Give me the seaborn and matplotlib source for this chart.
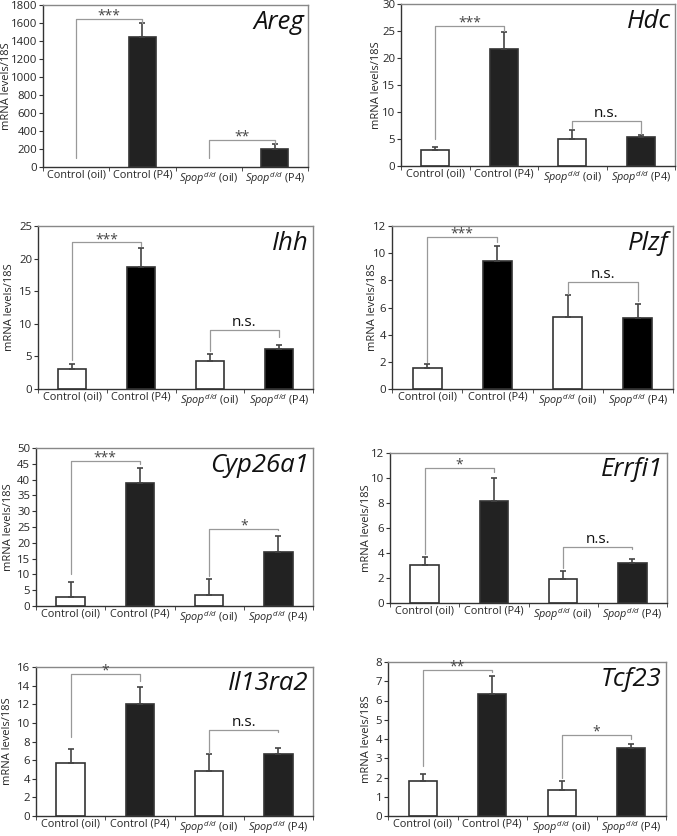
import pandas as pd
import numpy as np
import matplotlib
matplotlib.use('Agg')
import matplotlib.pyplot as plt
import seaborn as sns

# grupos (eixo x)
groups = ['Control (oil)', 'Control (P4)', r'$Spop^{d/d}$ (oil)', r'$Spop^{d/d}$ (P4)']

genes = ['Areg', 'Hdc', 'Ihh', 'Plzf', 'Cyp26a1', 'Errfi1', 'Il13ra2', 'Tcf23']

# medias e erros
mean_areg = [0, 1450, 0, 205]
err_areg = [0, 150, 0, 55]
mean_hdc = [2.9, 21.6, 5.0, 5.4]
err_hdc = [0.7, 3.3, 1.6, 0.4]
mean_ihh = [3.0, 18.7, 4.3, 6.1]
err_ihh = [0.8, 2.9, 1.0, 0.6]
mean_plzf = [1.55, 9.4, 5.3, 5.2]
err_plzf = [0.3, 1.1, 1.65, 1.05]
mean_cyp = [2.8, 39.0, 3.6, 17.1]
err_cyp = [4.9, 4.8, 5.0, 5.0]
mean_errfi = [3.05, 8.15, 1.95, 3.2]
err_errfi = [0.65, 1.85, 0.65, 0.35]
mean_il13 = [5.7, 12.0, 4.85, 6.65]
err_il13 = [1.45, 1.85, 1.8, 0.7]
mean_tcf = [1.83, 6.35, 1.35, 3.55]
err_tcf = [0.37, 0.9, 0.45, 0.18]

# colchetes de significancia: (inicio, topo, fim, rotulo)
sig1 = [(100, 1650, 1600, '***'), (5, 26, 25, '***'), (4.5, 22.5, 22, '***'),
        (2, 11.2, 10.8, '***'), (10, 46, 45, '***'), (3.9, 10.8, 10.5, '*'),
        (8.5, 15.2, 14.5, '*'), (2.6, 7.6, 7.5, '**')]
sig2 = [(100, 300, 260, '**'), (7, 8.3, 6, 'n.s.'), (5.8, 9, 8, 'n.s.'),
        (7, 7.85, 6.5, 'n.s.'), (9.5, 24.5, 24, '*'), (2.8, 4.5, 4.3, 'n.s.'),
        (6.8, 9.2, 9, 'n.s.'), (2, 4.2, 4, '*')]

ymax = [1800, 30, 25, 12, 50, 12, 16, 8]
ystep = [200, 5, 5, 2, 5, 2, 2, 1]

means = [mean_areg, mean_hdc, mean_ihh, mean_plzf, mean_cyp, mean_errfi, mean_il13, mean_tcf]
errs = [err_areg, err_hdc, err_ihh, err_plzf, err_cyp, err_errfi, err_il13, err_tcf]

dark = ['#222222', '#222222', '#000000', '#000000', '#222222', '#222222', '#222222', '#222222']

# caixas dos eixos em pixels (esq, topo, dir, base)
boxes = [(43, 5, 308, 167), (401, 4, 675, 166), (38, 226, 313, 389), (392, 226, 673, 389),
         (36, 448, 313, 606), (390, 453, 667, 603), (36, 667, 313, 816), (388, 662, 666, 816)]
# borda direita do rotulo y (pixels)
ylab_x = [12, 382, 15, 378, 14, 372, 13, 372]

sns.set_style('white')
plt.rcParams['font.family'] = ['Open Sans', 'DejaVu Sans']
plt.rcParams['mathtext.fontset'] = 'custom'
plt.rcParams['mathtext.rm'] = 'Open Sans'
plt.rcParams['mathtext.it'] = 'Open Sans:italic'

W, H = 677, 836
fig = plt.figure(figsize=(W / 100, H / 100), dpi=100)

for i, gene in enumerate(genes):
    l, t, r, b = boxes[i]
    ax = fig.add_axes([l / W, 1 - b / H, (r - l) / W, (b - t) / H])
    df = pd.DataFrame({'grupo': groups, 'valor': means[i]})
    sns.barplot(data=df, x='grupo', y='valor', hue='grupo', legend=False,
                palette=['white', dark[i], 'white', dark[i]], width=0.41,
                edgecolor='#333333', linewidth=1.2, ax=ax)
    # barras com valor zero nao aparecem
    for p in ax.patches:
        if p.get_height() == 0:
            p.set_linewidth(0)
    # barras de erro so para cima (somente onde existe erro)
    e = np.array(errs[i])
    m = np.array(means[i])
    pos = np.arange(4)[e > 0]
    ax.errorbar(pos, m[e > 0], yerr=[np.zeros(len(pos)), e[e > 0]], fmt='none',
                ecolor='#444444', elinewidth=1.2, capsize=2.5, capthick=1.2)

    # colchetes
    for (x0, x1), s in [((0, 1), sig1[i]), ((2, 3), sig2[i])]:
        y0, yt, y1, lab = s
        ax.plot([x0, x0, x1, x1], [y0, yt, yt, y1], color='#999999', lw=0.9)
        if lab == 'n.s.':
            ax.text((x0 + x1) / 2, yt, lab, ha='center', va='bottom', fontsize=11, color='#111111')
        else:
            ax.text((x0 + x1) / 2, yt - ymax[i] * 0.03, lab, ha='center', va='bottom',
                    fontsize=10, color='#444444')

    ax.text(0.985, 0.97, gene, transform=ax.transAxes, ha='right', va='top',
            fontsize=18.5, style='italic', color='#111111')

    ax.set_xlim(-0.5, 3.5)
    ax.set_ylim(0, ymax[i])
    ax.set_yticks(range(0, ymax[i] + 1, ystep[i]))
    ax.set_xticks(range(4))
    ax.set_xticklabels(groups, fontsize=7.8)
    ax.set_xticks([-0.5, 0.5, 1.5, 2.5, 3.5], minor=True)
    ax.tick_params(axis='x', which='major', length=0, pad=2)
    ax.tick_params(axis='x', which='minor', length=3, direction='out', color='#333333', bottom=True)
    ax.tick_params(axis='y', length=3, direction='out', color='#333333', labelsize=8.2, left=True, pad=1.2)
    ax.set_xlabel('')
    ax.set_ylabel('mRNA levels/18S', fontsize=8)
    ax.yaxis.set_label_coords((ylab_x[i] - l) / (r - l), 0.5)
    for side in ['top', 'right']:
        ax.spines[side].set_color('#888888')
        ax.spines[side].set_linewidth(1.0)
    for side in ['left', 'bottom']:
        ax.spines[side].set_color('#333333')
        ax.spines[side].set_linewidth(1.0)

plt.savefig('out.png', dpi=100)
